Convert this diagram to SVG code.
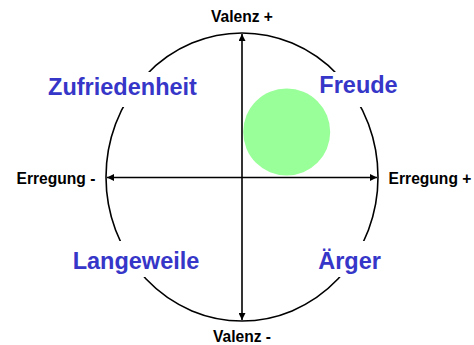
<svg xmlns="http://www.w3.org/2000/svg" width="474" height="345" viewBox="0 0 474 345">
<style>
.ax{font-family:"Liberation Sans",Arial,sans-serif;font-weight:bold;font-size:15.6px;fill:#000}
.lb{font-family:"Liberation Sans",Arial,sans-serif;font-weight:bold;font-size:23.5px;fill:#3636c8}
.bg{fill:#fff}
.ln{stroke:#000;stroke-width:1.6;fill:none}
</style>
<defs>
<marker id="ah" viewBox="0 0 10 10" refX="10" refY="5" markerWidth="7" markerHeight="7" markerUnits="userSpaceOnUse" orient="auto-start-reverse">
<path d="M0,0 L10,5 L0,10 z" fill="#000"/>
</marker>
</defs>
<g id="circle">
<ellipse cx="242" cy="177" rx="136" ry="144" class="ln" stroke-width="2"/>
</g>
<g id="connectors">
<line x1="242" y1="34" x2="242" y2="320" class="ln" marker-start="url(#ah)" marker-end="url(#ah)"/>
<line x1="107" y1="177.5" x2="377" y2="177.5" class="ln" marker-start="url(#ah)" marker-end="url(#ah)"/>
</g>
<g id="valenz-plus"><text class="ax" x="242" y="22" text-anchor="middle">Valenz +</text></g>
<g id="valenz-minus"><text class="ax" x="242" y="342" text-anchor="middle">Valenz -</text></g>
<g id="erregung-minus"><text class="ax" x="56" y="184" text-anchor="middle">Erregung -</text></g>
<g id="erregung-plus"><text class="ax" x="430" y="184" text-anchor="middle">Erregung +</text></g>
<g id="zufriedenheit"><rect class="bg" x="44" y="72" width="158" height="35"/><text class="lb" x="122.5" y="95" text-anchor="middle">Zufriedenheit</text></g>
<g id="freude"><rect class="bg" x="316" y="72" width="85" height="35"/><text class="lb" x="358.5" y="93" text-anchor="middle">Freude</text></g>
<g id="langeweile"><rect class="bg" x="69" y="241" width="134" height="36"/><text class="lb" x="136" y="269" text-anchor="middle">Langeweile</text></g>
<g id="aerger"><rect class="bg" x="315" y="241" width="69" height="36"/><text class="lb" x="349.5" y="269" text-anchor="middle">Ärger</text></g>
<g id="blob">
<circle cx="286.7" cy="132" r="43.5" fill="#99ff99"/>
</g>
</svg>
